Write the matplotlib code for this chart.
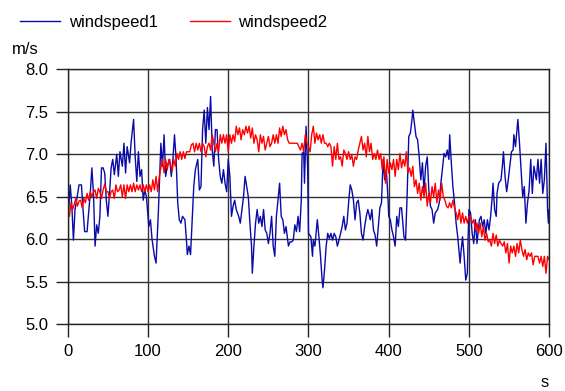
# -*- coding: utf-8 -*-
# wind speed comparison, two anemometers over 600 s
import numpy as np
import matplotlib
matplotlib.use('Agg')
import matplotlib.pyplot as plt

# ... data
t_red = np.arange(0, 601, 2)
ws2 = [6.35, 6.27, 6.43, 6.35, 6.41, 6.48, 6.39, 6.45, 6.46, 6.37, 6.48, 6.43, 6.54, 6.46, 6.56, 6.50,
       6.56, 6.58, 6.48, 6.60, 6.56, 6.48, 6.58, 6.65, 6.56, 6.56, 6.48, 6.56, 6.58, 6.48, 6.64, 6.56,
       6.58, 6.64, 6.50, 6.64, 6.48, 6.64, 6.56, 6.64, 6.56, 6.66, 6.56, 6.64, 6.58, 6.64, 6.56, 6.64,
       6.56, 6.64, 6.56,
       6.64, 6.56, 6.70, 6.58, 6.74, 6.56, 6.74, 6.84, 6.94, 6.78, 6.94, 6.82, 6.94, 6.88, 6.80, 6.94,
       6.86, 7.01, 6.94, 7.03, 6.94, 7.03, 6.95, 7.03, 7.03, 7.03, 7.11, 7.13, 7.03, 7.13, 7.05, 7.13,
       7.03, 7.13, 7.09, 6.97, 7.09, 7.13, 7.05, 7.23, 7.13, 7.03, 7.13, 7.03, 7.23, 7.13, 7.23, 7.13,
       7.23, 7.03,
       7.23, 7.13, 7.23, 7.15, 7.33, 7.23, 7.31, 7.17, 7.29, 7.23, 7.33, 7.25, 7.33, 7.19, 7.31, 7.13,
       7.23, 7.17, 7.03, 7.23, 7.13, 7.21, 7.05, 7.13, 7.21, 7.09, 7.13, 7.23, 7.13, 7.23, 7.13, 7.31,
       7.21, 7.33, 7.23, 7.29, 7.17, 7.13, 7.13, 7.13, 7.13, 7.13, 7.13, 7.09, 7.05, 7.13, 7.03, 7.23,
       7.13, 7.09,
       7.03, 7.23, 7.33, 7.13, 7.25, 7.17, 7.23, 7.13, 7.23, 7.13, 7.13, 7.09, 7.13, 7.09, 6.86, 7.09,
       6.94, 7.13, 6.94, 6.97, 6.86, 7.05, 7.01, 6.94, 7.03, 6.94, 6.99, 6.86, 6.97, 6.94, 7.05, 7.13,
       7.21, 7.05, 7.13, 6.97, 7.21, 7.03, 7.13, 6.94, 7.01, 6.94, 7.05, 6.94, 7.01, 6.82, 6.97, 6.66,
       6.94, 6.78,
       6.90, 6.82, 6.94, 6.74, 6.94, 6.82, 7.01, 6.84, 6.94, 6.86, 7.03, 6.78, 6.84, 6.74, 6.86, 6.62,
       6.70, 6.54, 6.66, 6.46, 6.62, 6.50, 6.66, 6.39, 6.54, 6.43, 6.62, 6.50, 6.66, 6.43, 6.58, 6.46,
       6.66, 6.50, 6.46, 6.39, 6.37, 6.43, 6.37, 6.46, 6.37, 6.31, 6.23, 6.35, 6.19, 6.31, 6.19, 6.27,
       6.19, 6.27,
       6.27, 6.19, 6.23, 6.11, 6.19, 6.07, 6.19, 6.03, 6.15, 5.99, 6.07, 5.97, 5.99, 5.92, 6.07, 5.95,
       6.05, 5.92, 5.99, 5.95, 5.92, 5.97, 5.84, 5.95, 5.72, 5.92, 5.84, 5.92, 5.80, 5.95, 5.84, 5.99,
       5.88, 5.80, 5.88, 5.76, 5.84, 5.80, 5.84, 5.70, 5.80, 5.80, 5.80, 5.72, 5.80, 5.68, 5.80, 5.60,
       5.80, 5.76]

t_blue = [0, 3, 5, 7, 9, 11, 14, 17, 19, 21, 24, 28, 30, 32, 34, 36, 38, 40, 42, 44, 46, 48, 50, 52,
          54, 56, 58, 61, 63, 65, 68, 70, 72, 74, 77, 79, 82, 84, 86, 88, 90, 92, 94, 96, 98, 101, 103,
          105, 108, 110, 113, 116, 118, 120, 122, 124, 127, 129, 131, 133, 135, 137, 139, 141, 143, 146,
          148, 149, 151, 153, 155, 157, 159, 162, 164, 166, 168, 170, 172, 174, 176, 178, 180, 182, 184,
          186, 188, 190, 192, 194, 196, 198, 200, 202, 204, 206, 208, 210, 213, 215, 217, 219, 221, 223,
          225, 227, 229, 230, 232, 234, 236, 238, 240, 242, 244, 246, 248, 250, 252, 254, 256, 258, 260,
          262, 264, 266, 268, 270, 272, 275, 277, 279, 281, 283, 285, 287, 289, 291, 292, 294, 295, 297,
          299, 300, 303, 305, 306, 308, 311, 313, 315, 317, 318, 320, 322, 324, 326, 328, 330, 332, 334,
          336, 338, 340, 342, 344, 346, 348, 350, 352, 354, 356, 358, 360, 362, 364, 366, 368, 370, 372,
          374, 377, 379, 381, 383, 385, 387, 389, 391, 393, 395, 397, 399, 400, 402, 404, 406, 408, 410,
          412, 414, 416, 419, 421, 423, 425, 427, 429, 430, 432, 434, 436, 438, 440, 442, 444, 446, 448,
          450, 452, 454, 456, 458, 461, 463, 465, 467, 469, 471, 473, 475, 476, 478, 480, 482, 484, 486,
          489, 490, 492, 494, 496, 498, 499, 500, 502, 504, 506, 508, 510, 513, 515, 517, 519, 521, 523,
          525, 527, 529, 530, 532, 534, 535, 537, 540, 542, 543, 545, 547, 549, 551, 553, 555, 556, 558,
          561, 563, 565, 567, 569, 571, 573, 575, 577, 579, 581, 584, 586, 588, 590, 592, 594, 596, 598,
          599, 600]
ws1 = [6.19, 6.64, 6.40, 5.99, 6.35, 6.46, 6.64, 6.64, 6.35, 6.09, 6.09, 6.54, 6.84, 6.54, 5.92, 6.17,
       6.07, 6.27, 6.84, 6.84, 6.78, 6.46, 6.27, 6.54, 6.84, 6.94, 6.76, 7.00, 6.74, 7.03, 6.86, 7.13,
       6.78, 7.09, 6.90, 7.15, 7.41, 6.97, 6.68, 7.03, 6.74, 6.82, 6.46, 6.58, 6.50, 6.15, 6.23, 6.00,
       5.80, 5.72, 6.35, 7.13, 6.86, 7.23, 6.74, 6.86, 6.94, 6.74, 6.94, 7.23, 6.94, 6.43, 6.23, 6.19,
       6.27, 6.23, 5.97, 5.82, 5.92, 5.82, 6.23, 6.62, 6.82, 6.94, 6.58, 6.62, 7.29, 7.52, 7.13, 7.55,
       7.29, 7.68, 7.05, 6.86, 7.29, 7.29, 6.94, 6.74, 6.66, 6.82, 6.66, 6.56, 6.94, 6.74, 6.27, 6.39,
       6.46, 6.35, 6.27, 6.19, 6.35, 6.50, 6.74, 6.62, 6.50, 6.19, 5.92, 5.60, 5.92, 6.19, 6.35, 6.19,
       6.27, 6.15, 6.35, 6.11, 6.07, 5.95, 6.07, 6.27, 5.92, 5.80, 6.27, 6.46, 6.66, 6.27, 6.23, 6.07,
       6.15, 5.92, 5.97, 5.97, 5.99, 6.17, 6.09, 6.27, 6.09, 6.46, 7.01, 7.03, 6.66, 7.33, 6.82, 6.07,
       6.03, 5.80, 5.99, 5.92, 6.23, 6.03, 5.80, 5.52, 5.43, 5.64, 5.92, 6.07, 6.01, 6.07, 5.99, 6.07,
       6.03, 5.92, 5.99, 6.07, 6.15, 6.27, 6.11, 6.19, 6.43, 6.64, 6.58, 6.46, 6.23, 6.43, 6.46, 6.31,
       6.07, 5.99, 6.15, 6.27, 6.35, 6.23, 6.35, 6.11, 6.05, 5.92, 6.15, 6.37, 6.43, 6.94, 6.70, 6.82,
       6.50, 6.27, 6.23, 6.11, 6.03, 5.92, 6.27, 6.15, 6.37, 6.37, 6.03, 5.99, 6.54, 7.21, 7.25, 7.41,
       7.52, 7.37, 7.21, 7.17, 6.97, 6.70, 6.90, 6.56, 6.86, 6.97, 6.58, 6.39, 6.35, 6.19, 6.31, 6.35,
       6.43, 6.66, 6.84, 7.01, 6.97, 7.05, 6.94, 7.23, 6.90, 6.62, 6.43, 6.19, 6.03, 5.72, 5.84, 6.03,
       5.80, 5.52, 5.60, 6.03, 6.35, 6.31, 6.07, 5.95, 6.23, 5.95, 6.23, 6.27, 6.15, 6.23, 6.07, 6.23,
       6.11, 6.27, 6.50, 6.66, 6.35, 6.27, 6.54, 6.66, 6.70, 6.90, 7.03, 6.74, 6.56, 6.70, 6.86, 7.03,
       7.05, 7.23, 7.09, 7.41, 7.13, 6.82, 6.50, 6.62, 6.19, 6.43, 6.58, 6.94, 6.54, 6.86, 6.70, 6.94,
       6.66, 6.94, 6.54, 6.70, 7.13, 6.35, 6.19, 6.35]

xticks = [0, 100, 200, 300, 400, 500, 600]
yticks = [5.0, 5.5, 6.0, 6.5, 7.0, 7.5, 8.0]

plt.rc('font', family='Liberation Sans', size=12)
fig = plt.figure(figsize=(5.65, 3.91), dpi=100, facecolor='w')
ax = fig.add_axes([0.12, 0.1706, 0.852, 0.6522])

l1, = ax.plot(t_blue, ws1, color='#0a0aa8', lw=1.0)
l2, = ax.plot(t_red, ws2, color='#ff0000', lw=1.0)

ax.set_xlim(0, 600)
ax.set_ylim(5.0, 8.0)
ax.set_xticks(xticks)
ax.set_yticks(yticks)
ax.set_yticklabels(['%.1f' % v for v in yticks])
ax.grid(True, color='#333333', lw=1.0)
ax.set_axisbelow(True)
ax.tick_params(direction='out', length=9, width=1.0, color='#222222', pad=5)
for sp in ax.spines.values():
    sp.set_color('#222222')
    sp.set_linewidth(1.0)

fig.legend([l1, l2], ['windspeed1', 'windspeed2'], loc='center left',
           bbox_to_anchor=(0.036, 1 - 22 / 391.), ncol=2, frameon=False,
           handlelength=2.4, handletextpad=0.5, columnspacing=1.95,
           borderaxespad=0, borderpad=0)

fig.text(12 / 565., 1 - 50 / 391., 'm/s', ha='left', va='center')
fig.text(545 / 565., 1 / 391., 's', ha='center', va='bottom')

fig.savefig('out.png', dpi=100)
